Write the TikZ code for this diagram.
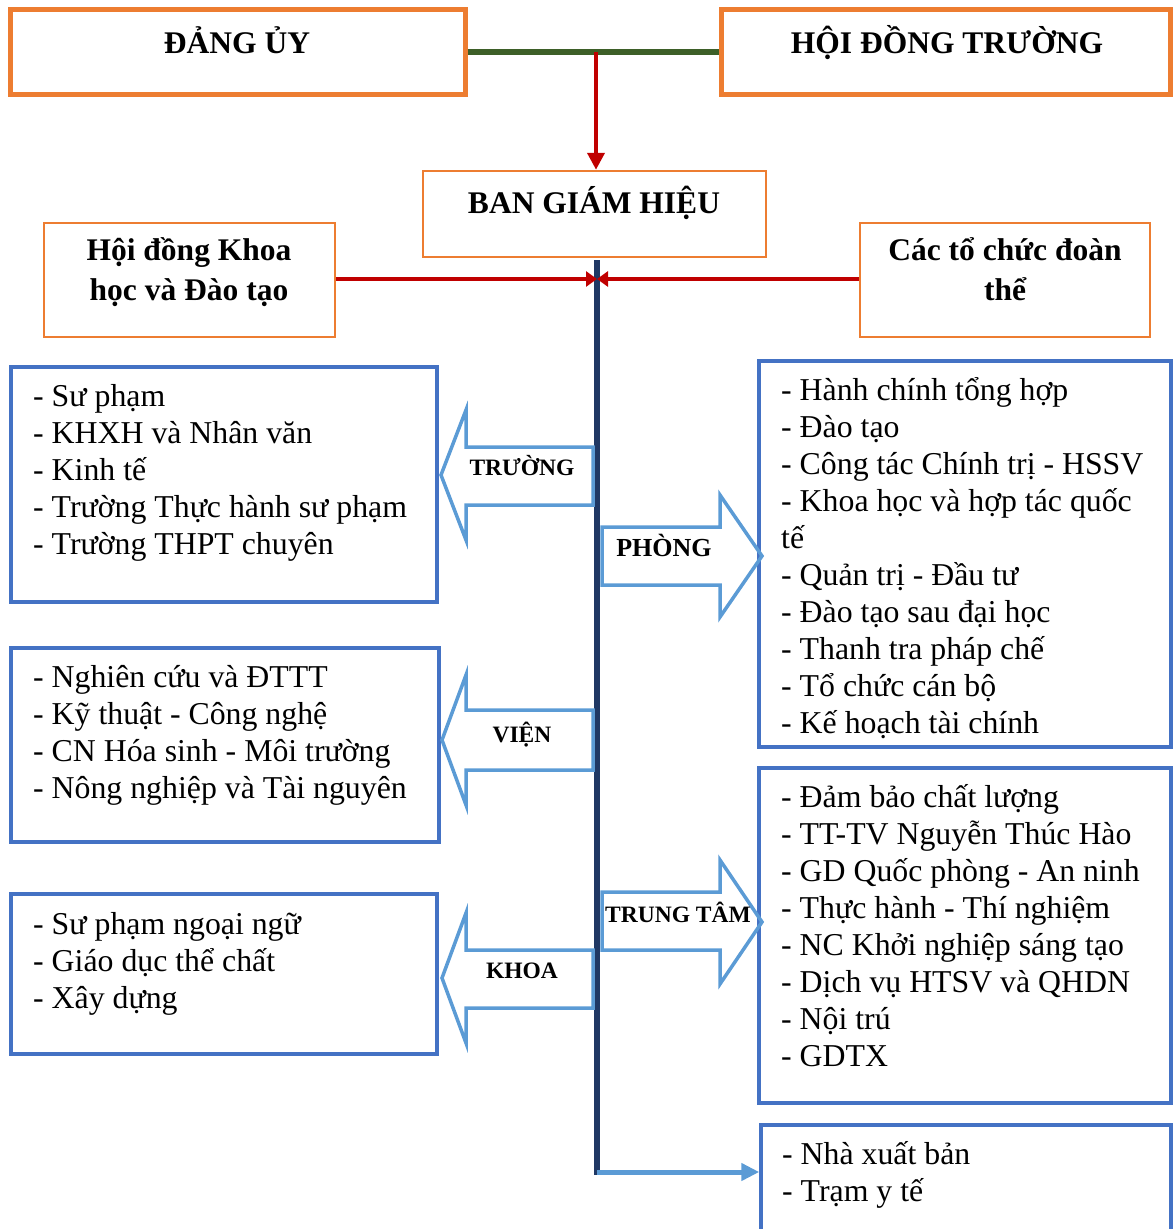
\documentclass[tikz,border=0pt]{standalone}
\usepackage{fontspec}
\setmainfont{Liberation Serif}
\usetikzlibrary{arrows.meta,calc}
\definecolor{orng}{RGB}{237,125,49}
\definecolor{bbox}{RGB}{68,114,196}
\definecolor{lblue}{RGB}{91,155,213}
\definecolor{navy}{RGB}{32,56,100}
\definecolor{dred}{RGB}{192,0,0}
\definecolor{dgreen}{RGB}{61,95,40}
\begin{document}
\begin{tikzpicture}[x=1pt,y=-1pt,
  topbox/.style={draw=orng,line width=5pt,rectangle,inner sep=0pt},
  obox/.style={draw=orng,line width=2.5pt,rectangle,inner sep=0pt},
  bluebox/.style={draw=bbox,line width=3.5pt,rectangle,inner sep=0pt},
  blockarrow/.style={draw=lblue,line width=3.5pt,line join=miter},
  hdr/.style={anchor=base,inner sep=0pt,font=\bfseries\fontsize{31.5}{39}\selectfont},
  albl/.style={anchor=base,inner sep=0pt,font=\bfseries\fontsize{23.5}{28}\selectfont},
  lst/.style={anchor=base west,inner sep=0pt,font=\fontsize{31.8}{37}\selectfont},
  redline/.style={draw=dred,line width=4pt},
]
\useasboundingbox (0,0) rectangle (1174,1229);
\clip (0,0) rectangle (1174,1229);

% top boxes
\node[topbox,minimum width=455pt,minimum height=85pt] (DU) at (237.5,52) {};
\node[topbox,minimum width=449pt,minimum height=85pt] (HD) at (945.5,52) {};
\node[hdr] (DUt) at (237,53) {ĐẢNG ỦY};
\node[hdr] (HDt) at (947,53) {HỘI ĐỒNG TRƯỜNG};

% BGH
\node[obox,minimum width=343pt,minimum height=86pt] (BGH) at (594.5,214) {};
\node[hdr] (BGHt) at (594,213) {BAN GIÁM HIỆU};

% side orange boxes
\node[obox,minimum width=291pt,minimum height=114pt] (HK) at (189.5,280) {};
\node[hdr] (HKa) at (189,260) {Hội đồng Khoa};
\node[hdr] (HKb) at (189,300) {học và Đào tạo};
\node[obox,minimum width=290pt,minimum height=114pt] (CT) at (1005,280) {};
\node[hdr] (CTa) at (1005,260) {Các tổ chức đoàn};
\node[hdr] (CTb) at (1005,300) {thể};

% connectors at top
\draw[draw=dgreen,line width=5.5pt] (DU.east) -- (HD.west);
\coordinate (J) at (596,52);
\draw[redline,-{Triangle[length=17pt,width=17pt]}] (J) -- (J |- BGH.north);

% navy spine
\coordinate (vtop) at (597,260);
\coordinate (vbot) at (597,1172);
\draw[draw=navy,line width=5.5pt] (vtop) -- ($(vbot)+(0,2.5)$);

\coordinate (X) at (597,279);
\draw[redline,-{Triangle[length=11pt,width=15pt]}] (HK.east |- X) -- (X);
\draw[redline,-{Triangle[length=11pt,width=15pt]}] (CT.west |- X) -- (X);

% blue boxes
\node[bluebox,minimum width=426pt,minimum height=235pt] (L1) at (224,484.5) {};
\node[bluebox,minimum width=428pt,minimum height=194pt] (L2) at (225,745) {};
\node[bluebox,minimum width=426pt,minimum height=160pt] (L3) at (224,974) {};
\node[bluebox,minimum width=412pt,minimum height=386pt] (R1) at (965,554) {};
\node[bluebox,minimum width=412pt,minimum height=335pt] (R2) at (965,935.5) {};
\node[bluebox,minimum width=410pt,minimum height=140pt] (R3) at (966,1195) {};

% bottom connector
\draw[draw=lblue,line width=5pt,-{Triangle[length=18pt,width=17pt]}] (vbot) -- (vbot -| R3.west);

% block arrows
\draw[blockarrow] (593,447) -- (466,447) -- (466,410) -- (441,475) -- (466,540) -- (466,505) -- (593,505) -- cycle;
\node[albl] (aTR) at (522,475) {TRƯỜNG};
\draw[blockarrow] (602,527) -- (720,527) -- (720,495) -- (762,556) -- (720,617) -- (720,585) -- (602,585) -- cycle;
\node[albl,font=\bfseries\fontsize{26}{30}\selectfont] (aPH) at (664,556) {PHÒNG};
\draw[blockarrow] (593,710) -- (466,710) -- (466,675) -- (442,740) -- (466,805) -- (466,770) -- (593,770) -- cycle;
\node[albl] (aVI) at (522,742) {VIỆN};
\draw[blockarrow] (593,950) -- (466,950) -- (466,913) -- (442,978) -- (466,1043) -- (466,1008) -- (593,1008) -- cycle;
\node[albl] (aKH) at (522,978) {KHOA};
\draw[blockarrow] (602,892) -- (720,892) -- (720,860) -- (762,922) -- (720,984) -- (720,950) -- (602,950) -- cycle;
\node[albl] (aTT) at (678,922) {TRUNG TÂM};

% lists
\foreach \t [count=\i] in {- Sư phạm,- KHXH và Nhân văn,- Kinh tế,- Trường Thực hành sư phạm,- Trường THPT chuyên}
  \node[lst] (L1t\i) at (33,{406+37*(\i-1)}) {\t};
\foreach \t [count=\i] in {- Nghiên cứu và ĐTTT,- Kỹ thuật - Công nghệ,- CN Hóa sinh - Môi trường,- Nông nghiệp và Tài nguyên}
  \node[lst] (L2t\i) at (33,{687+37*(\i-1)}) {\t};
\foreach \t [count=\i] in {- Sư phạm ngoại ngữ,- Giáo dục thể chất,- Xây dựng}
  \node[lst] (L3t\i) at (33,{934+37*(\i-1)}) {\t};
\foreach \t [count=\i] in {- Hành chính tổng hợp,- Đào tạo,- Công tác Chính trị - HSSV,- Khoa học và hợp tác quốc,tế,- Quản trị - Đầu tư,- Đào tạo sau đại học,- Thanh tra pháp chế,- Tổ chức cán bộ,- Kế hoạch tài chính}
  \node[lst] (R1t\i) at (781,{400+37*(\i-1)}) {\t};
\foreach \t [count=\i] in {- Đảm bảo chất lượng,- TT-TV Nguyễn Thúc Hào,- GD Quốc phòng - An ninh,- Thực hành - Thí nghiệm,- NC Khởi nghiệp sáng tạo,- Dịch vụ HTSV và QHDN,- Nội trú,- GDTX}
  \node[lst] (R2t\i) at (781,{807+37*(\i-1)}) {\t};
\foreach \t [count=\i] in {- Nhà xuất bản,- Trạm y tế}
  \node[lst] (R3t\i) at (782,{1164+37*(\i-1)}) {\t};
\end{tikzpicture}
\end{document}
